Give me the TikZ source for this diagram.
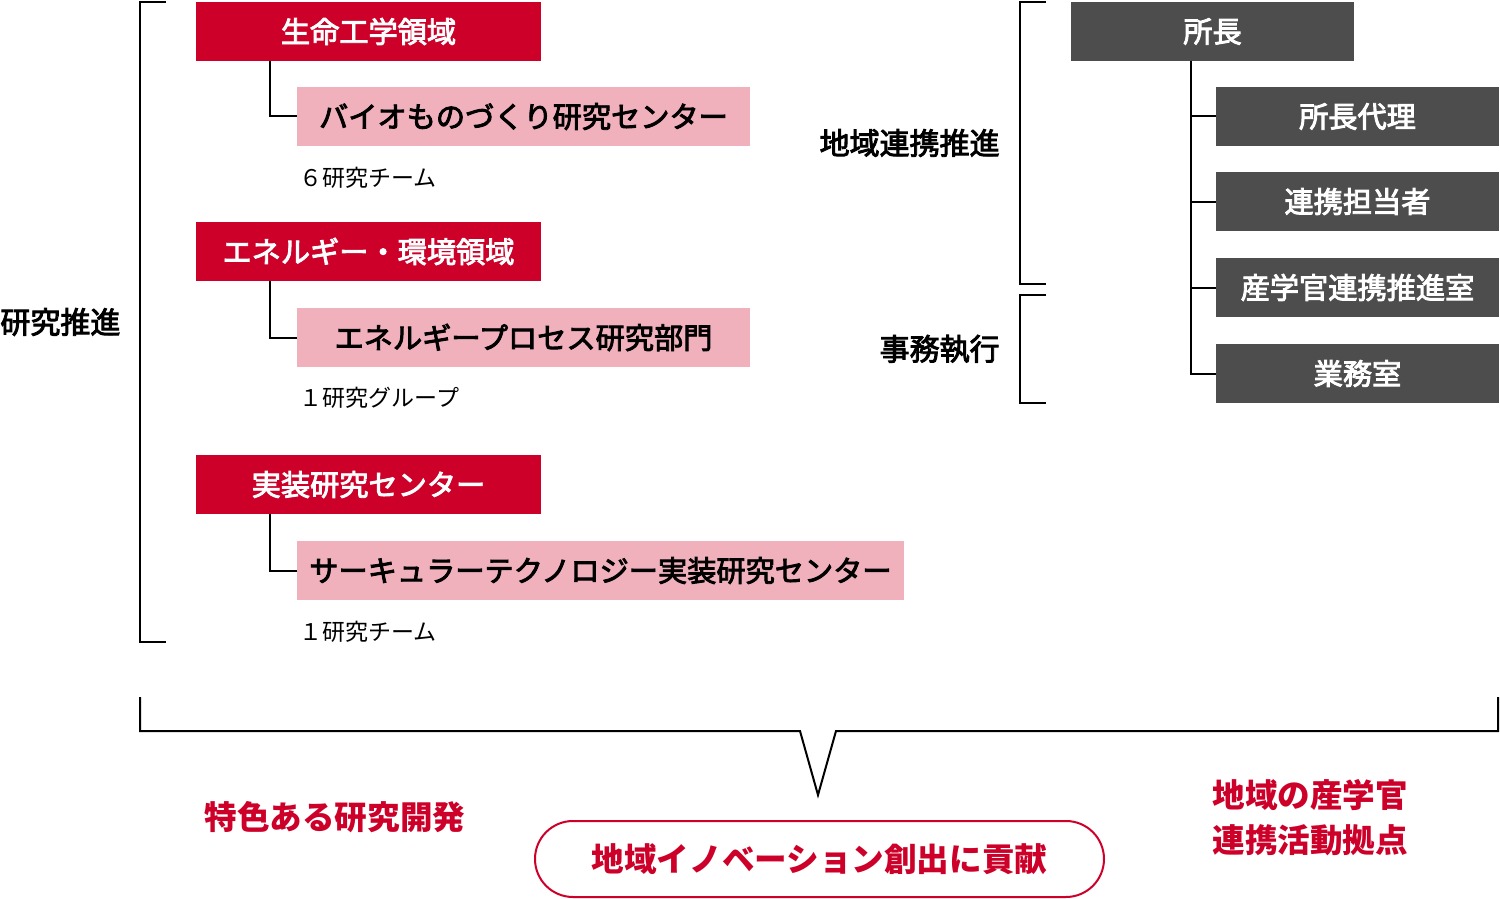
\documentclass[tikz,border=0pt]{standalone}
\usepackage{fontspec}
\setmainfont{Noto Sans CJK JP}
\newfontfamily\medfont{Noto Sans CJK JP}[FakeBold=3]
\definecolor{cred}{HTML}{CC0029}
\definecolor{cpink}{HTML}{F1B1BC}
\definecolor{cdark}{HTML}{4D4D4D}
\begin{document}
\begin{tikzpicture}[x=0.5pt,y=-0.5pt,
  box/.style={anchor=north west,inner sep=0pt,outer sep=0pt,minimum height=29.5pt,font=\medfont\fontsize{14.6pt}{17pt}\selectfont},
  redbox/.style={box,fill=cred,text=white,minimum width=172.5pt},
  pinkbox/.style={box,fill=cpink,text=black},
  darkbox/.style={box,fill=cdark,text=white,minimum width=141.5pt},
  note/.style={anchor=west,inner sep=0pt,font=\fontsize{11.5pt}{13pt}\selectfont},
  lbl/.style={inner sep=0pt,font=\medfont\fontsize{15pt}{17pt}\selectfont},
  redlbl/.style={inner sep=0pt,text=cred,font=\bfseries\fontsize{16.3pt}{22.5pt}\selectfont},
  ln/.style={line width=1pt,black}]
\useasboundingbox (0,0) rectangle (1500,899);
% left group
\node[redbox] (r1) at (196,2) {生命工学領域};
\node[pinkbox,minimum width=226.5pt] (p1) at (297,87) {バイオものづくり研究センター};
\node[note] (n1) at (299,178) {６研究チーム};
\node[redbox] (r2) at (196,222) {エネルギー・環境領域};
\node[pinkbox,minimum width=226.5pt] (p2) at (297,308) {エネルギープロセス研究部門};
\node[note] (n2) at (299,398) {１研究グループ};
\node[redbox] (r3) at (196,455) {実装研究センター};
\node[pinkbox,minimum width=303.5pt] (p3) at (297,541) {サーキュラーテクノロジー実装研究センター};
\node[note] (n3) at (299,632) {１研究チーム};
\draw[ln] (r1.south west) ++(74,0) |- (p1.west);
\draw[ln] (r2.south west) ++(74,0) |- (p2.west);
\draw[ln] (r3.south west) ++(74,0) |- (p3.west);
% left bracket
\coordinate (lb1) at (166,2);
\coordinate (lb2) at (166,642);
\draw[ln] (lb1) -- (140,2) -- (140,642) -- (lb2);
\node[lbl,anchor=west] (t1) at (0,322) {研究推進};
% right brackets
\coordinate (rb1) at (1046,2);
\coordinate (rb2) at (1046,284);
\coordinate (rb3) at (1046,295);
\coordinate (rb4) at (1046,403);
\draw[ln] (rb1) -- (1020,2) -- (1020,284) -- (rb2);
\draw[ln] (rb3) -- (1020,295) -- (1020,403) -- (rb4);
\node[lbl,anchor=east] (t2) at (1000,143) {地域連携推進};
\node[lbl,anchor=east] (t3) at (1000,349) {事務執行};
% right org
\node[darkbox] (d0) at (1071,2) {所長};
\node[darkbox] (d1) at (1216,87) {所長代理};
\node[darkbox] (d2) at (1216,172) {連携担当者};
\node[darkbox] (d3) at (1216,258) {産学官連携推進室};
\node[darkbox] (d4) at (1216,344) {業務室};
\draw[ln] (d0.south west) ++(120,0) |- (d4.west);
\draw[ln] (d0.south west) ++(120,0) |- (d1.west);
\draw[ln] (d0.south west) ++(120,0) |- (d2.west);
\draw[ln] (d0.south west) ++(120,0) |- (d3.west);
% bottom brace
\coordinate (bb1) at (140,697);
\coordinate (bb2) at (1498,697);
\draw[ln,line join=miter] (bb1) -- (140,731) -- (800,731) -- (818,795) -- (836,731) -- (1498,731) -- (bb2);
% bottom labels
\node[redlbl,anchor=west] (b1) at (204,817) {特色ある研究開発};
\node[draw=cred,line width=1pt,rounded corners=19pt,minimum width=284.5pt,minimum height=38pt,inner sep=0pt,text=cred,font=\bfseries\fontsize{16.3pt}{20pt}\selectfont] (b2) at (819.5,859) {地域イノベーション創出に貢献};
\node[redlbl,anchor=west,align=left] (b3) at (1212,818) {地域の産学官\\連携活動拠点};
\end{tikzpicture}
\end{document}
